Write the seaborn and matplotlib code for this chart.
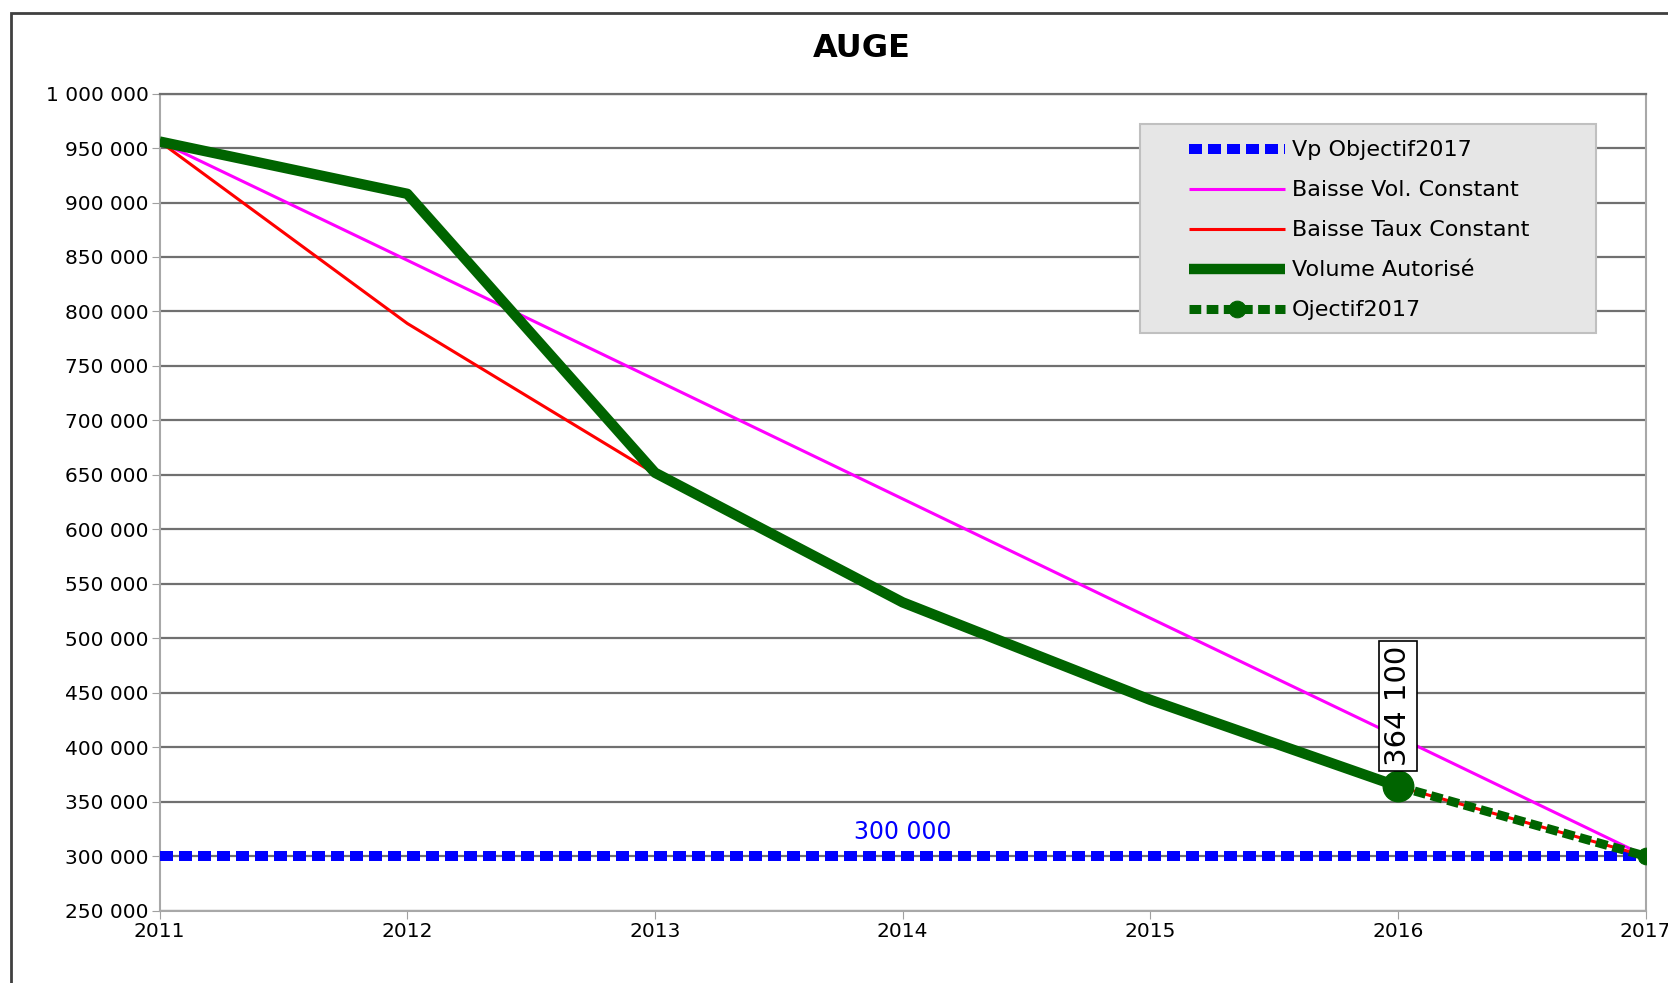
import matplotlib
matplotlib.use("Agg")
import matplotlib.pyplot as plt
import matplotlib.ticker as mticker
import seaborn as sns
import pandas as pd

# data
years = [2011, 2012, 2013, 2014, 2015, 2016, 2017]
vp_objectif = [300000, 300000, 300000, 300000, 300000, 300000, 300000]
baisse_vol = [956000, 847000, 737500, 628000, 518500, 409500, 300000]
baisse_taux = [956000, 789000, 651000, 534500, 442000, 364000, 300000]
volume_autorise = [956000, 908000, 652000, 533000, 443500, 364100]
objectif_years = [2016, 2017]
objectif_vals = [364100, 300000]

df = pd.DataFrame({"annee": years, "vp": vp_objectif, "vol": baisse_vol, "taux": baisse_taux})
df_auto = pd.DataFrame({"annee": years[:6], "vol": volume_autorise})
df_obj = pd.DataFrame({"annee": objectif_years, "vol": objectif_vals})

sns.set_style("white")
plt.rcParams["font.family"] = ["DejaVu Sans"]
plt.rcParams["text.color"] = "black"
plt.rcParams["xtick.labelcolor"] = "black"
plt.rcParams["ytick.labelcolor"] = "black"

fig = plt.figure(figsize=(16.68, 9.83), dpi=100)
ax = fig.add_axes([0.0957, 0.0736, 0.8909, 0.8312])

green = "#006400"

sns.lineplot(data=df, x="annee", y="vp", ax=ax, color="#0000ff", linewidth=7.2,
             linestyle=(0, (1.3, 0.6)), label="Vp Objectif2017", zorder=3,
             solid_capstyle="butt", dash_capstyle="butt")
sns.lineplot(data=df, x="annee", y="vol", ax=ax, color="#ff00ff", linewidth=2.2,
             label="Baisse Vol. Constant", zorder=4, solid_capstyle="butt")
sns.lineplot(data=df, x="annee", y="taux", ax=ax, color="#ff0000", linewidth=2.2,
             label="Baisse Taux Constant", zorder=4, solid_capstyle="butt")
sns.lineplot(data=df_auto, x="annee", y="vol", ax=ax, color=green, linewidth=7.5,
             label="Volume Autorisé", zorder=5, solid_capstyle="butt")
sns.lineplot(data=df_obj, x="annee", y="vol", ax=ax, color=green, linewidth=6.5,
             linestyle=(0, (1.3, 0.6)), marker="o", markersize=12,
             markeredgecolor=green, label="Ojectif2017", zorder=6,
             dash_capstyle="butt")
# big end point of the authorised volume
ax.plot([objectif_years[0]], [objectif_vals[0]], "o", color=green, markersize=22, zorder=7)

ax.set_xlim(2011, 2017)
ax.set_ylim(250000, 1000000)
ax.set_xticks(years)
ax.set_yticks(range(250000, 1000001, 50000))
ax.yaxis.set_major_formatter(mticker.FuncFormatter(lambda v, p: f"{int(v):,}".replace(",", " ")))
ax.tick_params(axis="both", labelsize=14.5, length=6, color="#a0a0a0", direction="out",
               left=True, bottom=True, pad=2)
ax.set_xlabel("")
ax.set_ylabel("")

ax.grid(axis="y", color="#707070", linewidth=1.6)
ax.grid(axis="x", visible=False)
for s in ["left", "bottom", "right"]:
    ax.spines[s].set_visible(True)
    ax.spines[s].set_color("#a8a8a8")
    ax.spines[s].set_linewidth(1.5)
ax.spines["top"].set_color("#707070")
ax.spines["top"].set_linewidth(1.6)

# data label and target label
ax.text(2016, 438000, "364 100", rotation=90, ha="center", va="center", fontsize=21,
        bbox=dict(boxstyle="square,pad=0.16", facecolor="white", edgecolor="black", linewidth=1.2),
        zorder=8)
ax.text(2014, 322000, "300 000", color="#0000ff", ha="center", va="center", fontsize=17,
        zorder=8)

fig.text(0.5166, 0.951, "AUGE", ha="center", va="center", fontsize=23, fontweight="heavy")

# legend box drawn separately, legend entries placed inside it
box = plt.Rectangle((1072 / 1568, 1 - 313 / 924), 428 / 1568, 196 / 924,
                    transform=fig.transFigure, facecolor="#e6e6e6", edgecolor="#c0c0c0",
                    linewidth=1.5, zorder=9)
ax.add_patch(box)
box.set_clip_on(False)
leg = ax.legend(loc="upper left", bbox_to_anchor=(1118 / 1568, 1 - 132 / 924),
                bbox_transform=fig.transFigure, fontsize=16, handlelength=4.3,
                handletextpad=0.3, labelspacing=0.9, borderpad=0,
                borderaxespad=0, frameon=False)
leg.set_zorder(10)

# outer chart frame
fig.patches.append(plt.Rectangle((10 / 1568, -0.05), 1.1, 1 - 12 / 924 + 0.05,
                                 transform=fig.transFigure, fill=False,
                                 edgecolor="#404040", linewidth=2))

fig.savefig("out.png", dpi=100)
